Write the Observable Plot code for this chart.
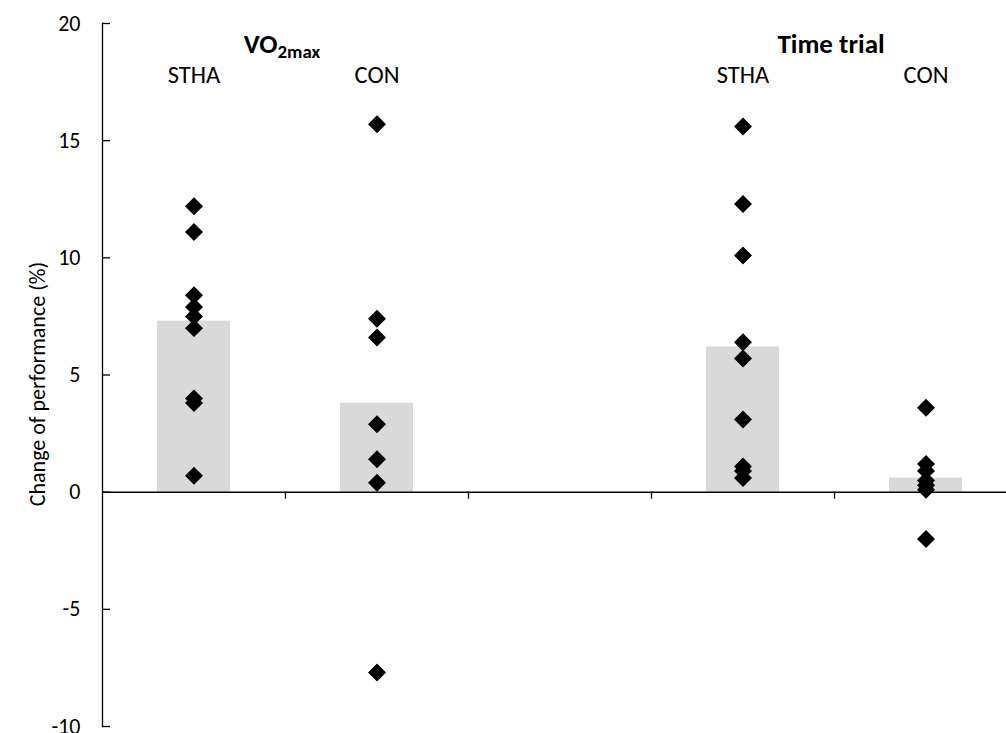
<!DOCTYPE html>
<html>
<head>
<meta charset="utf-8">
<script src="https://cdn.jsdelivr.net/npm/d3@7"></script>
<script src="https://cdn.jsdelivr.net/npm/@observablehq/plot@0.6"></script>
<style>
  html, body { margin: 0; padding: 0; background: #fff; overflow: hidden; }
  #chart svg { overflow: hidden !important; }
</style>
</head>
<body>
<div id="chart"></div>
<script>
// ---- data ----
const categories = ["VO2max STHA", "VO2max CON", "gap", "TT STHA", "TT CON"];
const categoryLabels = ["STHA", "CON", "", "STHA", "CON"];
const groupTitles = ["VO2max", "Time trial"];
const groupAnchors = ["VO2max STHA", "TT STHA"];
const meanCategories = ["VO2max STHA", "VO2max CON", "TT STHA", "TT CON"];
const meanValues = [7.3, 3.8, 6.2, 0.6];
const vo2SthaValues = [12.2, 11.1, 8.4, 7.9, 7.5, 7.0, 4.0, 3.8, 0.7];
const vo2ConValues = [15.7, 7.4, 6.6, 2.9, 1.4, 0.4, -7.7];
const ttSthaValues = [15.6, 12.3, 10.1, 6.4, 5.7, 3.1, 1.1, 0.9, 0.6];
const ttConValues = [3.6, 1.2, 0.9, 0.5, 0.3, 0.1, -2.0];
const yTicks = [-10, -5, 0, 5, 10, 15, 20];
const yLabel = "Change of performance (%)";

// ---- tables built from the arrays ----
const bars = meanCategories.map((c, i) => ({cat: c, value: meanValues[i]}));
const points = [
  ...vo2SthaValues.map(v => ({cat: "VO2max STHA", value: v})),
  ...vo2ConValues.map(v => ({cat: "VO2max CON", value: v})),
  ...ttSthaValues.map(v => ({cat: "TT STHA", value: v})),
  ...ttConValues.map(v => ({cat: "TT CON", value: v}))
];
const labelRows = categories.map((c, i) => ({cat: c, label: categoryLabels[i]})).filter(d => d.label);
const titleRows = groupTitles.map((t, i) => ({cat: groupAnchors[i], label: t}));

const font = "Calibri, Carlito, Lato, 'Open Sans', sans-serif";

const chart = Plot.plot({
  width: 1006,
  height: 733,
  marginTop: 23,
  marginBottom: 7,
  marginLeft: 102,
  marginRight: -11,
  style: {fontFamily: font, fontSize: "22px", color: "#000", background: "#fff", overflow: "hidden"},
  x: {domain: categories, padding: 0, axis: null},
  y: {domain: [-10, 20], axis: null},
  marks: [
    Plot.barY(bars, {x: "cat", y: "value", fill: "#d9d9d9", insetLeft: 55, insetRight: 55}),
    Plot.ruleY([0], {stroke: "#000", strokeWidth: 1.5}),
    Plot.ruleX(categories.slice(0, 4), {x: d => d, dx: 91.5, y1: 0, y2: -0.3, stroke: "#000", strokeWidth: 1.3}),
    Plot.frame({anchor: "left", stroke: "#000", strokeWidth: 1.3}),
    Plot.axisY(yTicks, {
      tickSize: -8, tickPadding: 30, strokeWidth: 1.3,
      fontSize: 22, label: null, tickFormat: d => String(d)
    }),
    Plot.text([yLabel], {text: d => d, frameAnchor: "left", textAnchor: "middle", lineAnchor: "middle", rotate: -90, dx: -65, dy: 9, fontSize: 22}),
    Plot.dot(points, {x: "cat", y: "value", symbol: "diamond2", r: 8.1, fill: "#000", stroke: "none"}),
    Plot.text(labelRows, {x: "cat", text: "label", frameAnchor: "top", dy: 42, fontSize: 24.5}),
    Plot.text(titleRows, {x: "cat", text: "label", frameAnchor: "top", dx: 88, dy: 10, fontSize: 27, fontWeight: "bold"})
  ]
});

document.getElementById("chart").appendChild(chart);

// subscript for VO2max
chart.querySelectorAll("text").forEach(t => {
  if (t.textContent === "VO2max") {
    const target = t.querySelector("tspan") || t;
    target.textContent = "VO";
    const sub = document.createElementNS("http://www.w3.org/2000/svg", "tspan");
    sub.setAttribute("font-size", "0.7em");
    sub.setAttribute("dy", "0.3em");
    sub.textContent = "2max";
    target.appendChild(sub);
  }
});
</script>
</body>
</html>
